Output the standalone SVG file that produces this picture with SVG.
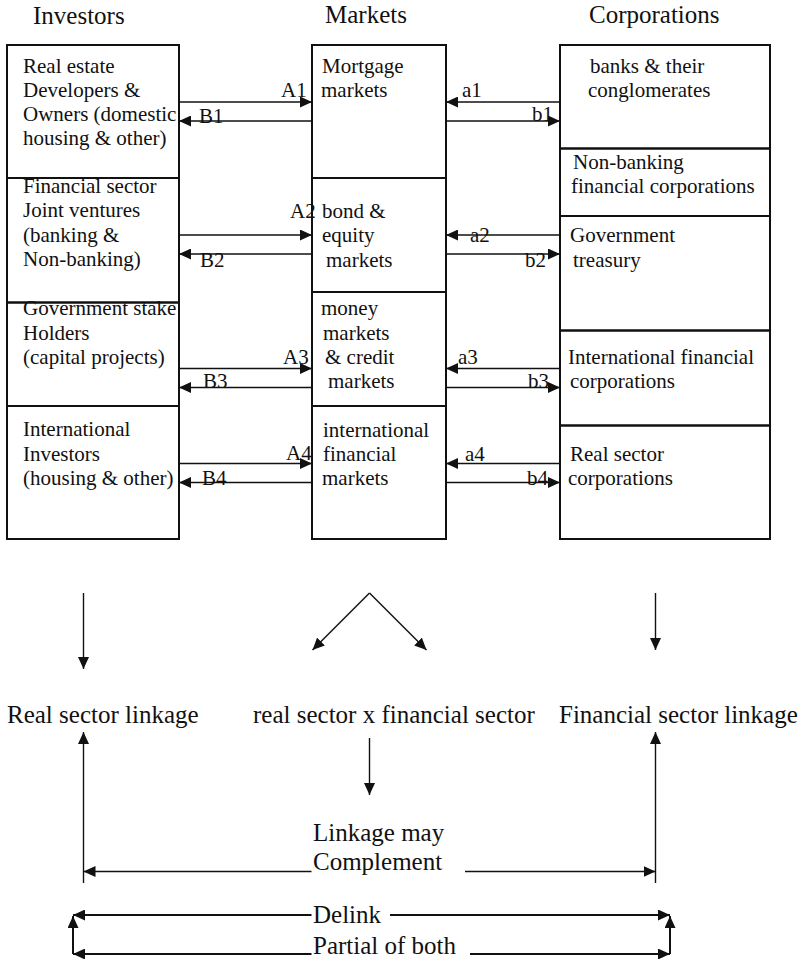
<svg xmlns="http://www.w3.org/2000/svg" width="803" height="959" viewBox="0 0 803 959">
<style>
text{font-family:"Liberation Serif","Times New Roman",serif;fill:#111}
.h{font-size:25px}
.t{font-size:21px}
.b{font-size:25px}
.box{fill:none;stroke:#111;stroke-width:2}
.c{stroke:#111;stroke-width:1.4;fill:none}
.c2{stroke:#111;stroke-width:2;fill:none}
</style>
<defs>
<marker id="ah" markerUnits="userSpaceOnUse" markerWidth="12" markerHeight="11" refX="12" refY="5.5" orient="auto">
<path d="M0,0 L12,5.5 L0,11 z" fill="#111"/>
</marker>
</defs>
<rect width="803" height="959" fill="#fff"/>
<g id="headings">
<text class="h" x="33" y="24">Investors</text>
<text class="h" x="325" y="23">Markets</text>
<text class="h" x="589" y="23">Corporations</text>
</g>
<g id="inv1"><rect class="box" x="7" y="45" width="172" height="133"/>
<text class="t" x="23" y="73">Real estate</text><text class="t" x="23" y="97">Developers &amp;</text><text class="t" x="23" y="121">Owners (domestic</text><text class="t" x="23" y="145">housing &amp; other)</text></g>
<g id="inv2"><rect class="box" x="7" y="178" width="172" height="124.5"/>
<text class="t" x="23" y="193">Financial sector</text><text class="t" x="23" y="217">Joint ventures</text><text class="t" x="23" y="242">(banking &amp;</text><text class="t" x="23" y="266">Non-banking)</text></g>
<g id="inv3"><rect class="box" x="7" y="302.5" width="172" height="103.5"/>
<text class="t" x="23" y="315">Government stake</text><text class="t" x="23" y="340">Holders</text><text class="t" x="23" y="364">(capital projects)</text></g>
<g id="inv4"><rect class="box" x="7" y="406" width="172" height="133"/>
<text class="t" x="23" y="436">International</text><text class="t" x="23" y="461">Investors</text><text class="t" x="23" y="485">(housing &amp; other)</text></g>
<g id="mkt1"><rect class="box" x="312" y="45" width="134" height="133"/>
<text class="t" x="322" y="73">Mortgage</text><text class="t" x="321" y="97">markets</text></g>
<g id="mkt2"><rect class="box" x="312" y="178" width="134" height="114"/>
<text class="t" x="322" y="218">bond &amp;</text><text class="t" x="322" y="242">equity</text><text class="t" x="326" y="267">markets</text></g>
<g id="mkt3"><rect class="box" x="312" y="292" width="134" height="114"/>
<text class="t" x="321" y="315">money</text><text class="t" x="323" y="340">markets</text><text class="t" x="325" y="364">&amp; credit</text><text class="t" x="328" y="388">markets</text></g>
<g id="mkt4"><rect class="box" x="312" y="406" width="134" height="133"/>
<text class="t" x="323" y="437">international</text><text class="t" x="323" y="461">financial</text><text class="t" x="322" y="485">markets</text></g>
<g id="corp1"><rect class="box" x="560" y="45" width="210" height="103.5"/>
<text class="t" x="590" y="73">banks &amp; their</text><text class="t" x="588" y="97">conglomerates</text></g>
<g id="corp2"><rect class="box" x="560" y="148.5" width="210" height="67.5"/>
<text class="t" x="573" y="169">Non-banking</text><text class="t" x="571" y="193">financial corporations</text></g>
<g id="corp3"><rect class="box" x="560" y="216" width="210" height="114.5"/>
<text class="t" x="570" y="242">Government</text><text class="t" x="573" y="267">treasury</text></g>
<g id="corp4"><rect class="box" x="560" y="330.5" width="210" height="95"/>
<text class="t" x="568" y="364">International financial</text><text class="t" x="570" y="388">corporations</text></g>
<g id="corp5"><rect class="box" x="560" y="425.5" width="210" height="113.5"/>
<text class="t" x="570" y="461">Real sector</text><text class="t" x="568" y="485">corporations</text></g>
<g id="outcomes">
<text class="b" x="7" y="723">Real sector linkage</text>
<text class="b" x="253" y="723">real sector x financial sector</text>
<text class="b" x="559" y="723">Financial sector linkage</text>
<text class="b" x="313" y="841">Linkage may</text>
<text class="b" x="313" y="870">Complement</text>
<text class="b" x="313" y="923">Delink</text>
<text class="b" x="313" y="954">Partial of both</text>
</g>
<g id="connectors">
<line class="c" x1="179" y1="102" x2="312" y2="102" marker-end="url(#ah)"/>
<line class="c" x1="312" y1="121" x2="179" y2="121" marker-end="url(#ah)"/>
<line class="c" x1="560" y1="102" x2="446" y2="102" marker-end="url(#ah)"/>
<line class="c" x1="446" y1="121" x2="560" y2="121" marker-end="url(#ah)"/>
<line class="c" x1="179" y1="235" x2="312" y2="235" marker-end="url(#ah)"/>
<line class="c" x1="312" y1="254" x2="179" y2="254" marker-end="url(#ah)"/>
<line class="c" x1="560" y1="235" x2="446" y2="235" marker-end="url(#ah)"/>
<line class="c" x1="446" y1="254" x2="560" y2="254" marker-end="url(#ah)"/>
<line class="c" x1="179" y1="368.5" x2="312" y2="368.5" marker-end="url(#ah)"/>
<line class="c" x1="312" y1="387.5" x2="179" y2="387.5" marker-end="url(#ah)"/>
<line class="c" x1="560" y1="368.5" x2="446" y2="368.5" marker-end="url(#ah)"/>
<line class="c" x1="446" y1="387.5" x2="560" y2="387.5" marker-end="url(#ah)"/>
<line class="c" x1="179" y1="463.5" x2="312" y2="463.5" marker-end="url(#ah)"/>
<line class="c" x1="312" y1="482.5" x2="179" y2="482.5" marker-end="url(#ah)"/>
<line class="c" x1="560" y1="463.5" x2="446" y2="463.5" marker-end="url(#ah)"/>
<line class="c" x1="446" y1="482.5" x2="560" y2="482.5" marker-end="url(#ah)"/>
<text class="t" x="281" y="97">A1</text><text class="t" x="199" y="123">B1</text>
<text class="t" x="462" y="97">a1</text><text class="t" x="532" y="121">b1</text>
<text class="t" x="290" y="218">A2</text><text class="t" x="200" y="267">B2</text>
<text class="t" x="470" y="242">a2</text><text class="t" x="525" y="267">b2</text>
<text class="t" x="283" y="364">A3</text><text class="t" x="203" y="388">B3</text>
<text class="t" x="458" y="364">a3</text><text class="t" x="528" y="388">b3</text>
<text class="t" x="286" y="460">A4</text><text class="t" x="202" y="485">B4</text>
<text class="t" x="465" y="461">a4</text><text class="t" x="527" y="485">b4</text>
<line class="c" x1="83.5" y1="593" x2="83.5" y2="669" marker-end="url(#ah)"/>
<line class="c" x1="655.5" y1="593" x2="655.5" y2="650" marker-end="url(#ah)"/>
<line class="c" x1="369.5" y1="593" x2="312.5" y2="650" marker-end="url(#ah)"/>
<line class="c" x1="369.5" y1="593" x2="426.5" y2="650" marker-end="url(#ah)"/>
<line class="c" x1="369.5" y1="738" x2="369.5" y2="795" marker-end="url(#ah)"/>
<line class="c" x1="83.5" y1="883" x2="83.5" y2="732" marker-end="url(#ah)"/>
<line class="c" x1="655.5" y1="883" x2="655.5" y2="732" marker-end="url(#ah)"/>
<line class="c" x1="311.5" y1="871.5" x2="83.5" y2="871.5" marker-end="url(#ah)"/>
<line class="c" x1="465" y1="871.5" x2="655.5" y2="871.5" marker-end="url(#ah)"/>
<line class="c2" x1="311.5" y1="915" x2="73" y2="915" marker-end="url(#ah)"/>
<line class="c2" x1="390" y1="915" x2="670" y2="915" marker-end="url(#ah)"/>
<line class="c2" x1="311.5" y1="954" x2="73" y2="954" marker-end="url(#ah)"/>
<line class="c2" x1="470" y1="954" x2="670" y2="954" marker-end="url(#ah)"/>
<line class="c2" x1="73" y1="954" x2="73" y2="916" marker-end="url(#ah)"/>
<line class="c2" x1="670" y1="954" x2="670" y2="916" marker-end="url(#ah)"/>
</g>
</svg>
